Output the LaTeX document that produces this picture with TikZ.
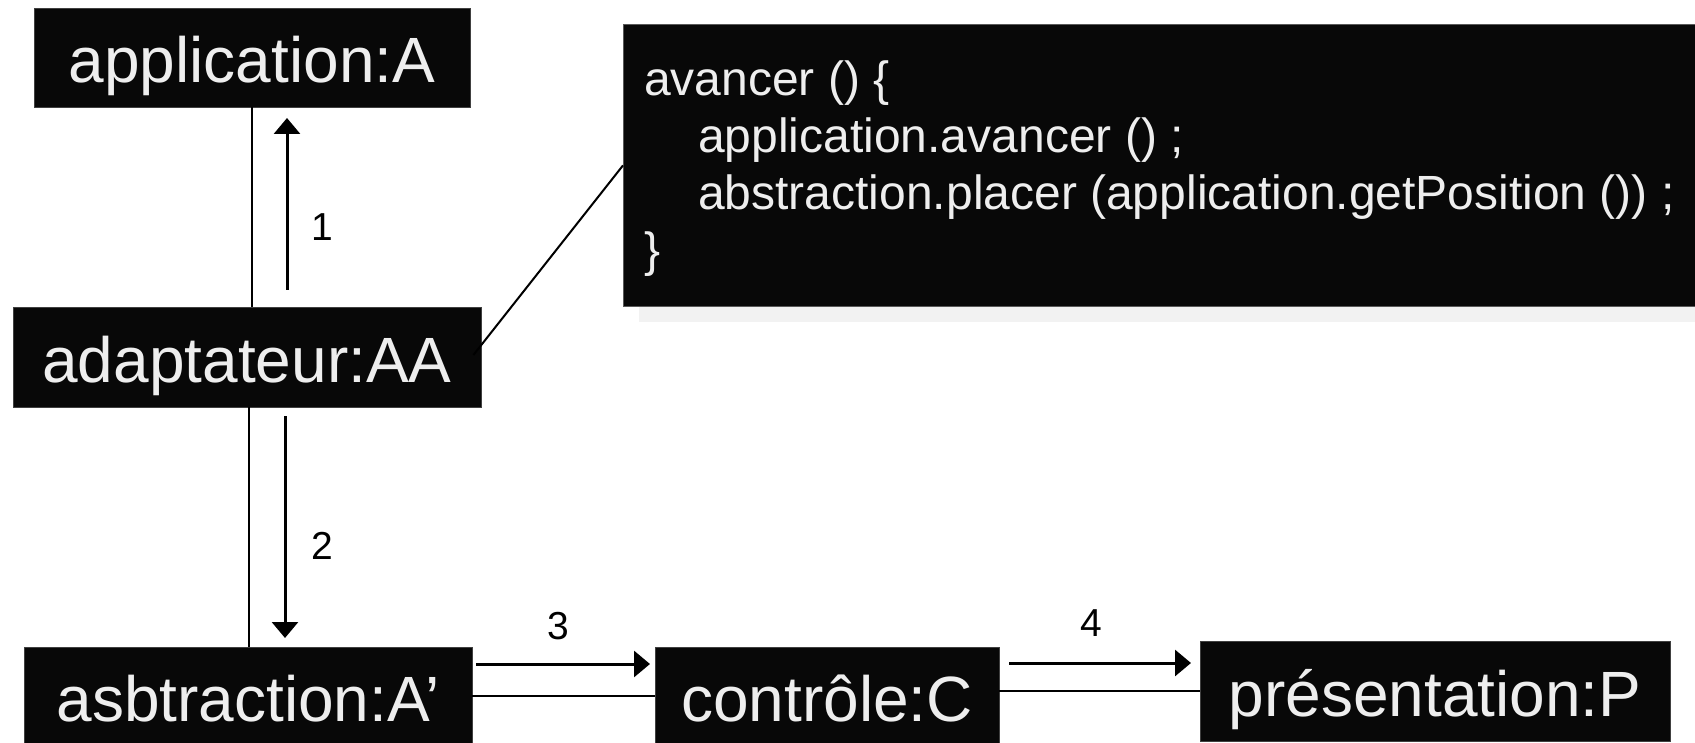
\documentclass[tikz,border=0pt]{standalone}
\usepackage{fontspec}
\setmainfont{Liberation Sans}
\usetikzlibrary{arrows.meta}
\definecolor{boxfill}{HTML}{080808}
\definecolor{boxtext}{HTML}{EEEEEE}
\definecolor{shadowgray}{HTML}{F2F2F2}
\begin{document}
\begin{tikzpicture}[x=1pt,y=-1pt,
  obj/.style={rectangle, fill=boxfill, draw=black!75, line width=0.8pt, text=boxtext,
    inner sep=0pt, font=\fontsize{64}{64}\selectfont, text height=50pt, text depth=0pt},
  codebox/.style={rectangle, fill=boxfill, draw=black!65, line width=0.8pt, inner sep=0pt},
  codeline/.style={anchor=base west, text=boxtext, inner sep=0pt, font=\fontsize{48}{48}\selectfont},
  link/.style={line width=2pt},
  msg/.style={line width=3pt, -{Triangle[length=16pt,width=26pt]}},
  num/.style={anchor=base, inner sep=0pt, font=\fontsize{39}{39}\selectfont}
]
\useasboundingbox (0,0) rectangle (1695,743);

% code note with shadow
\fill[shadowgray] (639,40) rectangle (1720,322);
\node[codebox, anchor=north west, minimum width=1097pt, minimum height=282pt] (code) at (623,24) {};
\node[codeline] (c1) at (644,96) {avancer () \{};
\node[codeline] (c2) at (698,153) {application.avancer () ;};
\node[codeline] (c3) at (698,210) {abstraction.placer (application.getPosition ()) ;};
\node[codeline] (c4) at (644,267) {\}};

% objects
\node[obj, minimum width=436pt, minimum height=99pt] (app) at (252,57.5) {application:A};
\node[obj, minimum width=468pt, minimum height=100pt] (adapt) at (247,357) {adaptateur:AA};
\node[obj, minimum width=448pt, minimum height=98pt] (abs) at (248,696) {asbtraction:A’};
\node[obj, minimum width=344pt, minimum height=98pt] (ctrl) at (827,696) {contrôle:C};
\node[obj, minimum width=470pt, minimum height=100pt] (pres) at (1435,691) {présentation:P};

% links
\draw[link] (app.south) -- (app.south |- adapt.north);
\draw[link] ([xshift=2pt]adapt.south) -- ([xshift=2pt]adapt.south |- abs.north);
\draw[link] (abs.east) -- (ctrl.west);
\draw[link] (pres.west) -- (pres.west -| ctrl.east);
\draw[line width=2pt] ([shift={(-8,-2)}]adapt.east) -- (code.west);

% messages
\coordinate (m1s) at (287,290);
\coordinate (m1e) at (287,118);
\coordinate (m2s) at (285,416);
\coordinate (m2e) at (285,638);
\coordinate (m3s) at (476,664);
\coordinate (m3e) at (650,664);
\coordinate (m4s) at (1009,663);
\coordinate (m4e) at (1191,663);
\draw[msg] (m1s) -- (m1e);
\draw[msg] (m2s) -- (m2e);
\draw[msg] (m3s) -- (m3e);
\draw[msg] (m4s) -- (m4e);

\node[num] (n1) at (322,241) {1};
\node[num] (n2) at (322,559) {2};
\node[num] (n3) at (558,639) {3};
\node[num] (n4) at (1091,636) {4};
\end{tikzpicture}
\end{document}
